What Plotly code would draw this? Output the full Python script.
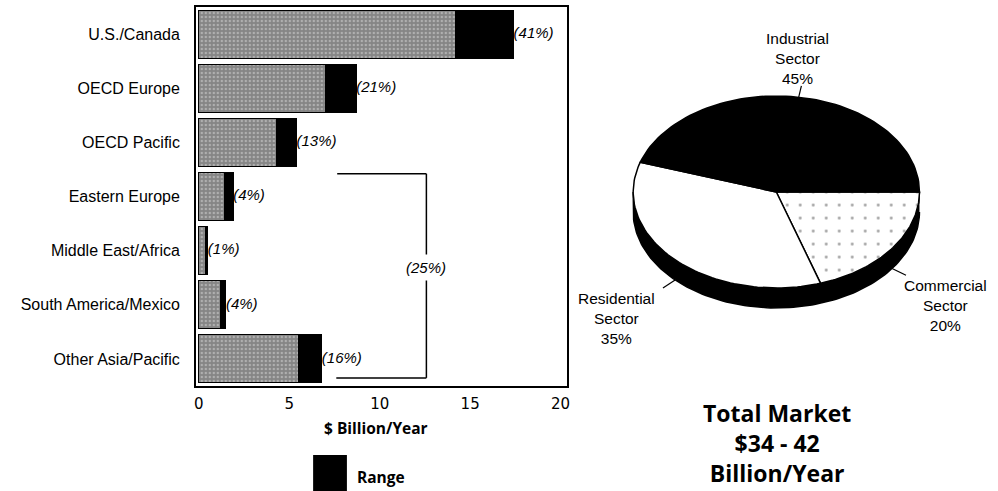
import numpy as np
import plotly.graph_objects as go

# ---- data -------------------------------------------------------------
regions = ["U.S./Canada", "OECD Europe", "OECD Pacific", "Eastern Europe",
           "Middle East/Africa", "South America/Mexico", "Other Asia/Pacific"]
market_low = [14.2, 7.0, 4.3, 1.4, 0.35, 1.2, 5.5]      # $ billion / year
market_high = [17.4, 8.7, 5.4, 1.9, 0.5, 1.5, 6.8]      # $ billion / year
region_share = [41, 21, 13, 4, 1, 4, 16]                # % of world market
grouped_regions = [3, 4, 5, 6]                          # bracketed "rest of world"
x_ticks = [0, 5, 10, 15, 20]

sectors = ["Commercial", "Residential", "Industrial"]
sector_share = [20, 35, 45]
total_market = (34, 42)

# ---- page geometry ----------------------------------------------------
W, H = 998, 491
LABEL_FONT = "Liberation Sans, Arial, sans-serif"
BOLD_FONT = "'Open Sans', Lato, sans-serif"

fig = go.Figure()

idx = list(range(len(regions)))
rng = [h - l for l, h in zip(market_low, market_high)]

# ---- bar chart: low estimate + range ----------------------------------
fig.add_trace(go.Bar(
    y=idx, x=market_low, orientation="h", width=0.885,
    marker=dict(color="#858585",
                pattern=dict(shape=".", fgcolor="#d8d8d8", size=4, solidity=0.3),
                line=dict(color="black", width=1)),
    showlegend=False, hoverinfo="skip"))
fig.add_trace(go.Bar(
    y=idx, x=rng, orientation="h", width=0.885, name="Range",
    marker=dict(color="black", line=dict(color="black", width=1)),
    showlegend=False, hoverinfo="skip"))
fig.add_trace(go.Scatter(
    y=idx, x=market_high, mode="text",
    text=[f"<i>({p}%)</i>" for p in region_share],
    textposition="middle right",
    textfont=dict(family=LABEL_FONT, size=15, color="black"),
    cliponaxis=False, showlegend=False, hoverinfo="skip"))

# bracket around the smaller regions
g0, g1 = grouped_regions[0] - 0.42, grouped_regions[-1] + 0.35
bx0, bx1 = 7.65, 12.58
for x0, y0, x1, y1 in [(bx0, g0, bx1, g0), (bx1, g0, bx1, g1), (bx0 - 0.05, g1, bx1, g1)]:
    fig.add_shape(type="line", xref="x", yref="y", x0=x0, y0=y0, x1=x1, y1=y1,
                  line=dict(color="black", width=1.5))
fig.add_annotation(x=bx1, y=(g0 + g1) / 2 - 0.15, xref="x", yref="y",
                   xanchor="center", yanchor="middle",
                   text=f"<i>({sum(region_share[i] for i in grouped_regions)}%)</i>",
                   showarrow=False, bgcolor="white", borderpad=4,
                   font=dict(family=LABEL_FONT, size=15, color="black"))

x_dom = [195 / W, 568 / W]
y_dom = [1 - 386 / H, 1 - 7 / H]
fig.update_layout(
    barmode="stack",
    xaxis=dict(domain=x_dom, range=[-0.165, 20.33], tickvals=x_ticks,
               ticks="", showgrid=False, zeroline=False, ticklabelstandoff=3,
               showline=True, mirror=True, linecolor="black", linewidth=1.5,
               tickfont=dict(family="DejaVu Sans, sans-serif", size=15, color="black")),
    yaxis=dict(domain=y_dom, range=[6.5, -0.5], tickvals=idx, ticktext=regions,
               ticks="", showgrid=False, zeroline=False, ticklabelstandoff=11,
               showline=True, mirror=True, linecolor="black", linewidth=1.5,
               tickfont=dict(family=LABEL_FONT, size=16, color="black")),
)

fig.add_annotation(x=376 / W, y=1 - 428 / H, xref="paper", yref="paper",
                   xanchor="center", yanchor="middle",
                   text="<b>$ Billion/Year</b>", showarrow=False,
                   font=dict(family=BOLD_FONT, size=15.5, color="black"))

# legend: range swatch
fig.add_shape(type="rect", xref="paper", yref="paper",
              x0=313 / W, x1=347 / W, y0=-0.01, y1=1 - 455 / H,
              fillcolor="black", line=dict(width=0))
fig.add_annotation(x=355 / W, y=1 - 477 / H, xref="paper", yref="paper",
                   xanchor="left", yanchor="middle",
                   text="<b>Range</b>", showarrow=False,
                   font=dict(family=BOLD_FONT, size=15.5, color="black"))

# ---- 3-D style pie of market by sector --------------------------------
CX, CY, RX, RY, DEPTH = 779, 192, 144, 96, 20
d = DEPTH / RY
PAD = 0.15
fig.update_layout(
    xaxis2=dict(domain=[(CX - (1 + PAD) * RX) / W, (CX + (1 + PAD) * RX) / W],
                range=[-1 - PAD, 1 + PAD], visible=False, anchor="y2"),
    yaxis2=dict(domain=[1 - (CY + (1 + d + PAD) * RY) / H, 1 - (CY - (1 + PAD) * RY) / H],
                range=[-1 - d - PAD, 1 + PAD], visible=False, anchor="x2"),
)

# side wall (front half of the disc)
th = np.linspace(0, np.pi, 120)
fig.add_trace(go.Scatter(
    x=np.concatenate([np.cos(th), np.cos(th[::-1])]),
    y=np.concatenate([-np.sin(th), -np.sin(th[::-1]) - d]),
    fill="toself", fillcolor="black", mode="lines",
    line=dict(color="black", width=1.5), xaxis="x2", yaxis="y2",
    showlegend=False, hoverinfo="skip"))

fills = {
    "Commercial": dict(fillcolor="white",
                       fillpattern=dict(shape=".", fgcolor="#444444", bgcolor="white",
                                        size=13, solidity=0.04)),
    "Residential": dict(fillcolor="white"),
    "Industrial": dict(fillcolor="black"),
}
total = sum(sector_share)
start = 0.0
mids = []
for name, share in zip(sectors, sector_share):
    a0 = start / total * 2 * np.pi
    a1 = (start + share) / total * 2 * np.pi
    start += share
    t = np.linspace(a0, a1, 80)
    fig.add_trace(go.Scatter(
        x=np.concatenate([[0], np.cos(t), [0]]),
        y=np.concatenate([[0], -np.sin(t), [0]]),
        fill="toself", mode="lines", line=dict(color="black", width=1.5),
        xaxis="x2", yaxis="y2", showlegend=False, hoverinfo="skip",
        **fills[name]))
    mids.append((a0 + a1) / 2)

# leader lines and sector labels
for name, share, m in zip(sectors, sector_share, mids):
    front = np.sin(m) > 0
    off = -d if front else 0.0
    r0, r1 = 1.0, 1.12
    xs = [r0 * np.cos(m), r1 * np.cos(m)]
    ys = [-r0 * np.sin(m) + off, -r1 * np.sin(m) + off]
    fig.add_trace(go.Scatter(x=xs, y=ys, mode="lines",
                             line=dict(color="black", width=1.2),
                             xaxis="x2", yaxis="y2", cliponaxis=False,
                             showlegend=False, hoverinfo="skip"))
    c = np.cos(m)
    xanchor = "left" if c > 0.5 else ("right" if c < -0.5 else "center")
    yanchor = "top" if front else "bottom"
    xshift = -4 if xanchor == "left" else (-6 if xanchor == "right" else -4)
    yshift = 0 if front else -3
    fig.add_annotation(x=xs[1], y=ys[1], xref="x2", yref="y2",
                       xanchor=xanchor, yanchor=yanchor,
                       xshift=xshift, yshift=yshift,
                       text=f"{name}<br>Sector<br>{share}%", align="center",
                       showarrow=False,
                       font=dict(family=LABEL_FONT, size=15.5, color="black"))

fig.add_annotation(x=780 / W, y=1 - 443 / H, xref="paper", yref="paper",
                   xanchor="center", yanchor="middle",
                   text=f"<b>Total Market<br>${total_market[0]} - {total_market[1]}<br>Billion/Year</b>",
                   showarrow=False, align="center",
                   font=dict(family=BOLD_FONT, size=23, color="black"))

fig.update_layout(width=W, height=H, margin=dict(l=0, r=0, t=0, b=0),
                  paper_bgcolor="white", plot_bgcolor="white", showlegend=False)

fig.write_html("out.html")
